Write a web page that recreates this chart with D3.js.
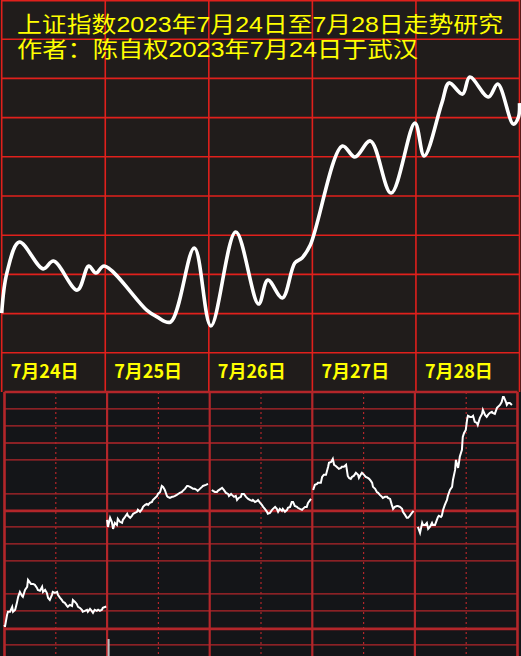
<!DOCTYPE html>
<html>
<head>
<meta charset="utf-8">
<script src="https://cdn.jsdelivr.net/npm/d3@7"></script>
<style>
  body { margin: 0; background: #141518; }
  svg { display: block; }
</style>
</head>
<body>
<div id="chart"></div>
<script>
var titleLines = ["上证指数2023年7月24日至7月28日走势研究", "作者：陈自权2023年7月24日于武汉"];
var dayLabels = ["7月24日", "7月25日", "7月26日", "7月27日", "7月28日"];

// upper panel: the drawn trend, t = days since 7/24 open, v = index points
var trendT = [0.00, 0.05, 0.17, 0.40, 0.50, 0.73, 0.84, 0.91, 0.99, 1.40, 1.50, 1.63, 1.86, 2.02, 2.26, 2.48,
  2.57, 2.71, 2.83, 2.90, 2.98, 3.29, 3.41, 3.56, 3.76, 3.99, 4.08, 4.25, 4.32, 4.45, 4.52, 4.70, 4.79, 4.94, 4.99, 5.00];
var trendV = [3160.3, 3180.7, 3196.5, 3182.8, 3186.8, 3172.0, 3184.3, 3180.7, 3184.3, 3161.8, 3158.3, 3155.7,
  3193.5, 3153.7, 3201.6, 3164.9, 3177.1, 3168.0, 3185.8, 3188.4, 3195.0, 3245.5, 3239.9, 3248.1, 3221.5,
  3257.2, 3240.4, 3267.4, 3277.7, 3272.0, 3280.7, 3270.5, 3277.1, 3256.7, 3260.3, 3267.4];

// lower panel: intraday index, [minute of session, index]
var day24 = [[0,3154.1],[1,3153.0],[6,3159.6],[8,3161.3],[13,3161.3],[18,3164.0],[20,3161.3],[25,3162.4],[29,3166.2],
  [32,3169.5],[36,3172.2],[41,3170.0],[43,3169.5],[48,3173.3],[53,3175.0],[55,3178.8],[62,3176.6],[67,3176.6],
  [71,3176.1],[76,3174.4],[78,3173.3],[83,3172.8],[88,3175.0],[90,3172.2],[95,3173.3],[99,3171.7],[102,3168.9],
  [106,3167.8],[111,3170.6],[113,3172.2],[118,3171.7],[123,3172.2],[125,3170.6],[130,3168.9],[134,3167.8],
  [137,3166.7],[141,3166.2],[146,3164.5],[148,3164.0],[153,3165.1],[158,3164.5],[160,3167.8],[165,3166.7],
  [169,3165.6],[172,3164.0],[176,3163.5],[181,3162.4],[183,3161.3],[188,3161.8],[193,3162.4],[195,3161.3],
  [200,3162.9],[204,3161.8],[207,3160.7],[211,3162.4],[216,3161.8],[219,3162.4],[223,3161.8],[228,3162.4],
  [230,3163.5],[238,3164.2]];
var day25 = [[0,3211.8],[2,3207.9],[7,3212.9],[11,3210.7],[14,3206.8],[18,3210.1],[23,3209.0],[25,3212.3],[30,3210.7],
  [35,3210.1],[37,3211.8],[42,3213.4],[47,3215.1],[49,3214.0],[54,3212.9],[58,3214.0],[61,3215.1],[65,3215.6],
  [70,3216.2],[72,3217.3],[77,3216.2],[82,3217.8],[84,3218.9],[89,3220.0],[93,3220.5],[96,3220.0],[100,3221.1],
  [105,3221.6],[107,3222.7],[112,3223.8],[117,3224.9],[119,3226.0],[124,3227.1],[128,3230.4],[131,3229.9],
  [135,3228.2],[140,3224.9],[142,3224.4],[147,3223.8],[152,3224.4],[154,3224.4],[159,3224.9],[163,3225.5],
  [166,3226.0],[170,3226.6],[175,3227.1],[177,3227.7],[182,3228.8],[187,3230.4],[189,3230.4],[194,3229.9],
  [198,3229.3],[201,3228.8],[205,3228.8],[210,3228.2],[212,3227.7],[217,3228.8],[222,3229.9],[224,3230.4],
  [231,3231.0],[236,3231.5]];
var day26 = [[5,3228.2],[8,3227.7],[12,3227.1],[17,3227.1],[19,3227.7],[29,3229.3],[33,3228.2],[38,3226.6],[43,3226.0],
  [45,3224.9],[50,3226.0],[52,3225.5],[57,3224.4],[61,3224.9],[64,3222.7],[68,3223.8],[73,3224.4],[75,3226.0],
  [80,3226.0],[85,3224.4],[90,3223.3],[94,3222.7],[99,3222.2],[101,3222.7],[106,3221.6],[111,3222.2],[113,3222.7],
  [118,3221.1],[122,3220.0],[125,3218.9],[129,3217.8],[134,3216.2],[136,3215.1],[141,3215.6],[146,3217.3],
  [148,3217.8],[153,3218.9],[157,3217.8],[160,3216.2],[164,3217.8],[169,3216.7],[171,3217.8],[176,3216.2],
  [181,3217.3],[183,3218.4],[188,3218.9],[192,3221.6],[195,3221.6],[199,3219.4],[204,3218.9],[206,3218.4],
  [211,3217.8],[216,3217.3],[218,3217.8],[223,3218.9],[227,3218.9],[230,3221.1],[237,3223.3]];
var day27 = [[2,3228.2],[6,3231.0],[11,3231.5],[13,3232.1],[20,3232.1],[23,3235.4],[27,3236.5],[32,3236.5],[37,3240.9],
  [39,3243.1],[44,3243.6],[48,3245.3],[51,3242.0],[55,3241.4],[60,3240.3],[62,3239.8],[67,3240.3],[69,3240.9],
  [74,3240.9],[79,3242.0],[83,3235.9],[86,3234.8],[90,3234.3],[93,3235.4],[97,3235.9],[102,3237.6],[107,3236.5],
  [109,3234.8],[114,3237.0],[116,3237.6],[121,3236.5],[125,3235.4],[130,3234.8],[133,3234.3],[137,3233.2],
  [140,3232.1],[142,3229.9],[147,3228.8],[151,3227.1],[154,3226.6],[158,3225.5],[163,3224.4],[165,3223.8],
  [170,3224.4],[175,3224.4],[177,3223.8],[182,3223.3],[186,3220.0],[189,3217.8],[193,3218.9],[198,3219.4],
  [200,3219.4],[205,3218.9],[210,3217.8],[212,3216.2],[217,3214.5],[221,3212.9],[224,3212.9],[228,3214.0],
  [233,3215.6],[237,3216.7]];
var day28 = [[7,3207.9],[12,3204.6],[17,3210.1],[19,3209.0],[24,3209.0],[28,3210.1],[31,3206.8],[35,3207.9],[40,3210.1],
  [42,3209.0],[47,3209.0],[54,3213.4],[56,3214.0],[61,3213.4],[63,3214.0],[66,3217.3],[70,3220.0],[75,3222.7],
  [77,3224.9],[82,3228.2],[87,3229.9],[89,3233.7],[94,3239.2],[96,3244.7],[101,3240.3],[103,3243.1],[105,3246.4],
  [110,3250.2],[111,3254.0],[112,3257.3],[115,3259.5],[119,3261.2],[122,3266.7],[124,3268.9],[129,3268.3],
  [133,3268.3],[136,3268.9],[140,3265.6],[145,3265.0],[147,3263.9],[152,3267.8],[157,3270.0],[159,3272.2],
  [164,3269.4],[168,3268.3],[171,3269.4],[175,3270.5],[180,3271.1],[182,3270.5],[187,3270.0],[192,3273.3],
  [194,3273.8],[199,3274.9],[203,3276.5],[206,3279.3],[208,3279.3],[213,3276.5],[215,3274.9],[218,3276.0],
  [222,3276.0],[227,3274.9]];
var intraday = [day24, day25, day26, day27, day28];

var topGrid = d3.range(3140, 3321, 20);
var bottomGrid = [3272.7, 3263.4, 3254.0, 3244.7, 3226.0, 3207.9, 3198.6, 3189.3, 3171.1, 3161.8, 3143.1];
var bottomThick = [3282.0, 3216.7, 3151.9];

var width = 521, height = 656;
var topH = 392;

var svg = d3.select("#chart")
  .append("svg")
  .attr("width", width)
  .attr("height", height);

// ---------- upper panel ----------
var xTop = d3.scaleLinear().domain([0, 5]).range([1.7, 519.5]);
var yTop = d3.scaleLinear().domain([3140, 3320]).range([352.8, 0]);

svg.append("rect")
  .attr("x", 0).attr("y", 0)
  .attr("width", width).attr("height", topH)
  .attr("fill", "#201c1b");

var topGridG = svg.append("g").attr("class", "topGrid");
topGridG.selectAll("line.h")
  .data(topGrid)
  .join("line")
  .attr("class", "h")
  .attr("x1", xTop(0)).attr("x2", xTop(5))
  .attr("y1", d => yTop(d)).attr("y2", d => yTop(d))
  .attr("stroke", "#e0201c")
  .attr("stroke-width", 1.6);
topGridG.selectAll("line.v")
  .data(d3.range(0, 6))
  .join("line")
  .attr("class", "v")
  .attr("x1", d => xTop(d)).attr("x2", d => xTop(d))
  .attr("y1", 0).attr("y2", topH)
  .attr("stroke", "#e0201c")
  .attr("stroke-width", 1.6);
topGridG.append("line")
  .attr("x1", xTop(0)).attr("x2", xTop(5))
  .attr("y1", 0.8).attr("y2", 0.8)
  .attr("stroke", "#e0201c").attr("stroke-width", 1.6);

var trendLine = d3.line()
  .x((d, i) => xTop(trendT[i]))
  .y(d => yTop(d))
  .curve(d3.curveCatmullRom.alpha(0.5));

svg.append("path")
  .datum(trendV)
  .attr("d", trendLine)
  .attr("fill", "none")
  .attr("stroke", "#ffffff")
  .attr("stroke-width", 3.6)
  .attr("stroke-linejoin", "round");

// title
svg.append("g").attr("class", "title")
  .selectAll("text")
  .data(titleLines)
  .join("text")
  .attr("x", 17)
  .attr("y", (d, i) => 32 + i * 25)
  .attr("textLength", (d, i) => i == 0 ? 486 : 401)
  .attr("lengthAdjust", "spacingAndGlyphs")
  .text(d => d)
  .style("font-family", "'Liberation Sans', 'Noto Sans CJK SC'")
  .style("font-size", "22px")
  .attr("fill", "#ffff00");

// day labels
svg.append("g").attr("class", "dayLabels")
  .selectAll("text")
  .data(dayLabels)
  .join("text")
  .attr("x", (d, i) => xTop(i) + 9)
  .attr("y", 378)
  .text(d => d)
  .style("font-family", "Noto Sans CJK SC")
  .style("font-size", "18px")
  .attr("font-weight", 700)
  .attr("fill", "#ffff00");

// ---------- lower panel ----------
var xB = d3.scaleLinear().domain([0, 1200]).range([4.5, 517.5]);
var yB = d3.scaleLinear().domain([3137, 3282]).range([656, 392]);

var gridG = svg.append("g").attr("class", "bottomGrid");
gridG.selectAll("line.h")
  .data(bottomGrid)
  .join("line")
  .attr("class", "h")
  .attr("x1", xB(0)).attr("x2", xB(1200))
  .attr("y1", d => yB(d)).attr("y2", d => yB(d))
  .attr("stroke", "#b3262a")
  .attr("stroke-width", 1.3);
gridG.selectAll("line.thick")
  .data(bottomThick)
  .join("line")
  .attr("class", "thick")
  .attr("x1", xB(0)).attr("x2", xB(1200))
  .attr("y1", d => yB(d)).attr("y2", d => yB(d))
  .attr("stroke", "#b3262a")
  .attr("stroke-width", 2.6);
gridG.selectAll("line.mid")
  .data(d3.range(0, 5))
  .join("line")
  .attr("class", "mid")
  .attr("x1", d => xB(d * 240 + 120)).attr("x2", d => xB(d * 240 + 120))
  .attr("y1", topH).attr("y2", height)
  .attr("stroke", "#b3262a")
  .attr("stroke-width", 1.2)
  .attr("stroke-dasharray", "2,3");
gridG.selectAll("line.v")
  .data(d3.range(0, 6))
  .join("line")
  .attr("class", "v")
  .attr("x1", d => xB(d * 240)).attr("x2", d => xB(d * 240))
  .attr("y1", topH).attr("y2", height)
  .attr("stroke", "#b3262a")
  .attr("stroke-width", d => (d == 0 || d == 5) ? 2.6 : 2.2);

// small volume mark after 7/24 close
svg.append("rect")
  .attr("x", xB(240) + 0.5).attr("y", 639)
  .attr("width", 2).attr("height", height - 639)
  .attr("fill", "#bdbdbd");

var dayLine = d3.line()
  .x(d => xB(d[2] * 240 + d[0]))
  .y(d => yB(d[1]));

svg.append("g").attr("class", "intraday")
  .selectAll("path")
  .data(intraday.map((s, k) => s.map(p => [p[0], p[1], k])))
  .join("path")
  .attr("d", dayLine)
  .attr("fill", "none")
  .attr("stroke", "#ffffff")
  .attr("stroke-width", 2)
  .attr("stroke-linejoin", "miter");
</script>
</body>
</html>
